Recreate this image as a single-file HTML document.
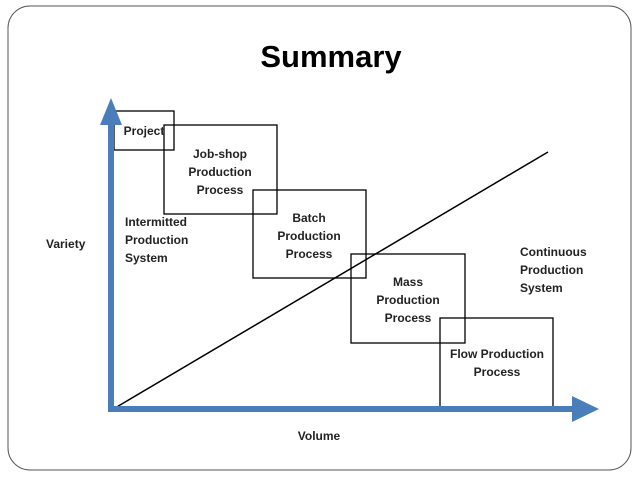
<html><head><style>body{margin:0;width:638px;height:479px;background:#fff;overflow:hidden}</style></head><body>
<svg width="638" height="479" xmlns="http://www.w3.org/2000/svg" font-family="Liberation Sans, sans-serif">
<rect x="8" y="6" width="623" height="464" rx="22" fill="none" stroke="#555" stroke-width="1"/>
<text x="331" y="67" font-size="31" font-weight="bold" text-anchor="middle">Summary</text>
<line x1="115" y1="408" x2="548" y2="152" stroke="#000" stroke-width="1.5"/>
<g fill="none" stroke="#000" stroke-width="1.3">
<rect x="114" y="111" width="60" height="39"/>
<rect x="164" y="125" width="113" height="89"/>
<rect x="253" y="190" width="113" height="88"/>
<rect x="351" y="254" width="114" height="89"/>
<rect x="440" y="318" width="113" height="89"/>
</g>
<rect x="108" y="115" width="6" height="297" fill="#4a7ebb"/>
<polygon points="100,125 111,98 122,125" fill="#4a7ebb"/>
<rect x="108" y="406" width="466" height="6" fill="#4a7ebb"/>
<polygon points="572,396 599,409 572,422" fill="#4a7ebb"/>
<g font-size="12" font-weight="bold" fill="#222" text-anchor="middle">
<text x="144" y="135">Project</text>
<text x="220" y="158">Job-shop</text><text x="220" y="176">Production</text><text x="220" y="194">Process</text>
<text x="309" y="222">Batch</text><text x="309" y="240">Production</text><text x="309" y="258">Process</text>
<text x="408" y="286">Mass</text><text x="408" y="304">Production</text><text x="408" y="322">Process</text>
<text x="497" y="358">Flow Production</text><text x="497" y="376">Process</text>
<text x="319" y="440">Volume</text>
</g>
<g font-size="12" font-weight="bold" fill="#222">
<text x="125" y="226">Intermitted</text><text x="125" y="244">Production</text><text x="125" y="262">System</text>
<text x="520" y="256">Continuous</text><text x="520" y="274">Production</text><text x="520" y="292">System</text>
<text x="46" y="248">Variety</text>
</g>
</svg></body></html>
